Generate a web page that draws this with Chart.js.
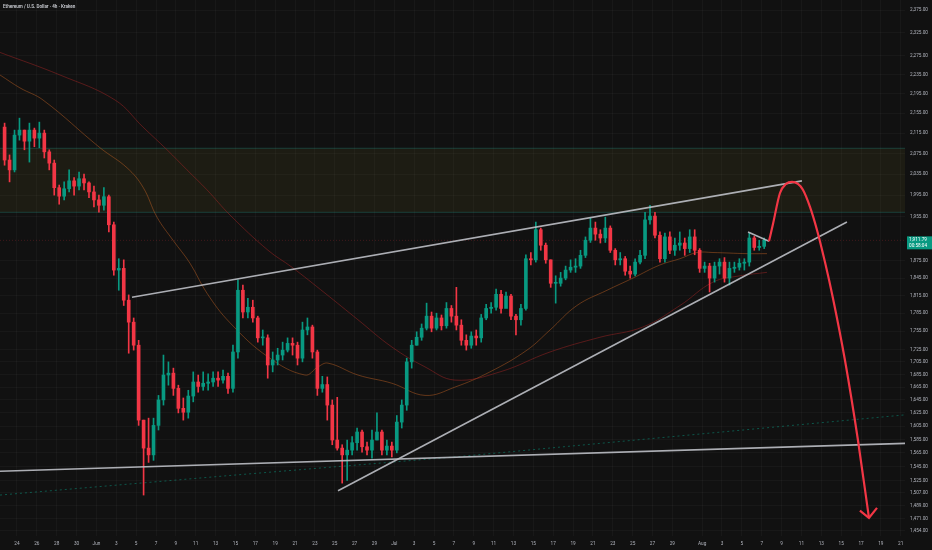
<!DOCTYPE html>
<html lang="en">
<head>
<meta charset="UTF-8">
<title>Ethereum / U.S. Dollar · 4h · Kraken</title>
<script src="https://cdn.jsdelivr.net/npm/chart.js"></script>
<style>
  body { margin: 0; background: #111111; }
  .wrap { width: 932px; height: 550px; }
</style>
</head>
<body>
<div class="wrap"><canvas id="grafico" width="932" height="550"></canvas></div>
<script>
// ---- data (x = days since May 1, 12h candles) ----
const titleText = 'Ethereum / U.S. Dollar · 4h · Kraken';
const firstCandle = 21.75;
const candleStep = 0.5;
const firstOpen = 2127;

const closes = [
  2062,2043,2111,2121,2099,2121,2105,2115,2078,2056,
  2009,1993,2007,2022,2012,2026,2018,2001,1986,1976,
  1992,1940,1859,1862,1807,1770,1732,1614,1572,1562,
  1606,1645,1684,1687,1663,1632,1626,1651,1673,1666,
  1671,1673,1679,1676,1682,1663,1721,1824,1787,1795,
  1777,1744,1744,1700,1708,1716,1724,1735,1732,1711,
  1757,1762,1721,1663,1669,1637,1584,1572,1562,1569,
  1580,1596,1574,1569,1584,1596,1569,1575,1569,1611,
  1637,1705,1732,1745,1760,1780,1760,1777,1764,1793,
  1780,1765,1740,1732,1747,1744,1777,1793,1795,1817,
  1793,1814,1780,1774,1793,1879,1877,1931,1903,1877,
  1836,1836,1845,1859,1864,1866,1885,1912,1934,1923,
  1916,1934,1894,1877,1879,1857,1852,1873,1885,1949,
  1956,1921,1879,1918,1894,1903,1907,1897,1918,1894,
  1862,1866,1845,1866,1873,1845,1862,1864,1871,1873,
  1916,1899,1901,1911.79
];
const highs = [
  2135,2072,2121,2145,2121,2135,2125,2137,2121,2082,
  2062,2014,2020,2043,2028,2039,2035,2020,2012,1995,
  2009,1995,1945,1879,1877,1816,1777,1740,1614,1617,
  1617,1652,1716,1705,1695,1668,1648,1660,1689,1684,
  1689,1686,1689,1689,1692,1687,1732,1842,1833,1810,
  1807,1780,1757,1749,1721,1727,1737,1744,1744,1737,
  1770,1777,1765,1724,1682,1681,1645,1649,1577,1584,
  1589,1602,1599,1581,1599,1625,1599,1584,1581,1621,
  1645,1711,1740,1754,1767,1802,1787,1785,1782,1803,
  1798,1829,1774,1749,1754,1757,1783,1800,1803,1826,
  1824,1821,1817,1783,1800,1886,1890,1945,1934,1907,
  1877,1849,1855,1866,1877,1879,1894,1918,1952,1945,
  1931,1954,1938,1897,1890,1883,1866,1879,1894,1963,
  1976,1963,1927,1925,1927,1916,1927,1916,1931,1931,
  1897,1873,1871,1873,1879,1881,1873,1873,1879,1879,
  1925,1919,1912,1916
];
const lows = [
  2052,2020,2039,2101,2082,2058,2088,2086,2066,2043,
  1995,1978,1986,2001,1995,2005,2005,1990,1973,1963,
  1967,1927,1850,1824,1798,1719,1724,1606,1504,1551,
  1554,1599,1637,1668,1652,1625,1614,1617,1642,1657,
  1660,1660,1666,1666,1671,1655,1657,1711,1777,1777,
  1770,1737,1732,1679,1689,1700,1708,1721,1716,1700,
  1705,1749,1711,1652,1657,1614,1577,1569,1521,1525,
  1562,1569,1566,1562,1557,1584,1562,1562,1559,1565,
  1602,1629,1695,1732,1740,1757,1754,1757,1757,1760,
  1770,1757,1732,1724,1727,1732,1737,1774,1785,1790,
  1785,1798,1774,1749,1765,1790,1868,1873,1894,1871,
  1829,1802,1831,1842,1855,1855,1862,1881,1908,1912,
  1907,1908,1890,1868,1868,1850,1845,1849,1870,1879,
  1941,1916,1873,1873,1888,1885,1894,1885,1890,1886,
  1855,1855,1821,1838,1852,1838,1833,1855,1859,1859,
  1866,1894,1894,1897
];

// moving averages
const maFastDays   = [21.29,23.30,25.62,31.36,34.08,35.69,37.10,38.71,40.42,42.13,44.45,48.28,52.00,53.31,54.32,57.34,60.76,64.09,67.11,70.63,74.36,76.68,79.39,82.42,85.03,87.75,89.77,91.48,93.09,96.51,98.53];
const maFastPrices = [2234,2207,2182,2086,2047,2010,1954,1912,1871,1819,1769,1713,1684,1697,1703,1684,1671,1652,1665,1689,1724,1757,1798,1824,1845,1868,1879,1890,1890,1888,1888];
const maSlowDays   = [21.29,27.33,32.87,35.69,38.11,40.12,42.13,44.45,48.28,50.69,54.02,57.34,60.76,64.09,67.11,71.64,76.68,81.71,86.04,89.77,93.09,95.81,98.53];
const maSlowPrices = [2282,2234,2182,2127,2082,2043,2005,1958,1894,1864,1819,1774,1729,1697,1676,1689,1721,1745,1762,1798,1838,1849,1855];
const dottedDays   = [21.29,44.45,67.11,112.43];
const dottedPrices = [1504,1532,1559,1622];

// drawings
const zoneTop = 2085, zoneBottom = 1963;
const upperDays = [34.58,102.05], upperPrices = [1812,2022];
const lowerDays = [55.33,106.58], lowerPrices = [1510,1945];
const supportDays = [21.29,112.43], supportPrices = [1538,1579];
const flagDays = [96.62,98.73], flagPrices = [1927,1910];
const arrowDays   = [98.73,99.13,99.84,100.44,101.05,101.65,102.15,102.86,103.56,104.37,105.18,106.38,107.69,108.80];
const arrowPrices = [1910,1941,1999,2016,2020,2016,2005,1973,1931,1873,1810,1708,1584,1472];
const headDays = [107.89,108.80,109.61], headPrices = [1482,1472,1486];

// axes
const xMin = 21.288, xMax = 112.43;
const yMin = 1447.1, yMax = 2397.5;
const xTickDays = [23,25,27,29,31,33,35,37,39,41,43,45,47,49,51,53,55,57,59,61,63,65,67,69,71,73,75,77,79,81,83,85,87,89,92,94,96,98,100,102,104,106,108,110,112];
const xTickLabels = ['24','26','28','30','Jun','3','5','7','9','11','13','15','17','19','21','23','25','27','29','Jul','3','5','7','9','11','13','15','17','19','21','23','25','27','29','Aug','3','5','7','9','11','13','15','17','19','21'];
const yTickValues = [2375,2325,2275,2235,2195,2155,2115,2075,2035,1995,1955,1875,1845,1815,1785,1755,1725,1705,1685,1665,1645,1625,1605,1585,1565,1545,1525,1507,1489,1471,1454];
const countdown = '00:58:04';

// ---- build ----
const upColor = '#089981', downColor = '#f23645';
const gridColor = 'rgba(255,255,255,0.03)';
const tickColor = '#b2b5be';
const fmt = v => v.toLocaleString('en-US', { minimumFractionDigits: 2, maximumFractionDigits: 2 });
const pts = (xs, ys) => xs.map((x, i) => ({ x: x, y: ys[i] }));

const xs = closes.map((c, i) => firstCandle + i * candleStep);
const opens = closes.map((c, i) => i === 0 ? firstOpen : closes[i - 1]);
const colors = closes.map((c, i) => c >= opens[i] ? upColor : downColor);
const lastClose = closes[closes.length - 1];

const linha = (data, color, width, order, extra) => Object.assign({
  type: 'line', data: data, borderColor: color, borderWidth: width,
  pointRadius: 0, fill: false, tension: 0, order: order
}, extra || {});

const extras = {
  id: 'extras',
  beforeDraw(chart) {
    const c = chart.ctx;
    c.save();
    c.fillStyle = '#111111';
    c.fillRect(0, 0, chart.width, chart.height);
    c.restore();
  },
  afterDraw(chart) {
    const c = chart.ctx, area = chart.chartArea;
    const py = chart.scales.y.getPixelForValue(lastClose);
    c.save();
    c.fillStyle = upColor;
    c.fillRect(area.right + 2, py - 4, chart.width - area.right - 2, 13);
    c.fillStyle = '#ffffff';
    c.font = '4.7px Roboto';
    c.textBaseline = 'middle';
    c.fillText(fmt(lastClose), area.right + 4, py - 0.5);
    c.fillText(countdown, area.right + 4, py + 5.5);
    c.fillStyle = '#c9cbd1';
    c.font = '600 4.6px Roboto';
    c.fillText(titleText, 3, 6.5);
    c.restore();
  }
};

new Chart(document.getElementById('grafico'), {
  type: 'bar',
  data: {
    datasets: [
      linha([{ x: xMin, y: zoneTop }, { x: xMax, y: zoneTop }], 'rgba(38,166,154,0.3)', 1, 10,
            { fill: '+1', backgroundColor: 'rgba(130,120,40,0.11)' }),
      linha([{ x: xMin, y: zoneBottom }, { x: xMax, y: zoneBottom }], 'rgba(38,166,154,0.3)', 1, 10),
      linha(pts(maSlowDays, maSlowPrices), 'rgba(160,35,35,0.5)', 1, 8, { tension: 0.4 }),
      linha(pts(maFastDays, maFastPrices), 'rgba(200,100,35,0.45)', 1, 8, { tension: 0.4 }),
      linha(pts(dottedDays, dottedPrices), 'rgba(8,153,129,0.5)', 1, 7, { borderDash: [2, 3] }),
      linha([{ x: xMin, y: lastClose }, { x: xMax, y: lastClose }], 'rgba(242,54,69,0.22)', 1, 7, { borderDash: [1, 2] }),
      {
        data: xs.map((x, i) => ({ x: x, y: [lows[i], highs[i]] })),
        backgroundColor: colors, barThickness: 1, grouped: false, order: 5
      },
      {
        data: xs.map((x, i) => ({ x: x, y: [opens[i], closes[i]] })),
        backgroundColor: colors, barThickness: 3, minBarLength: 1, grouped: false, order: 4
      },
      linha(pts(upperDays, upperPrices), 'rgba(190,192,198,0.9)', 1.6, 2),
      linha(pts(lowerDays, lowerPrices), 'rgba(190,192,198,0.9)', 1.6, 2),
      linha(pts(supportDays, supportPrices), 'rgba(190,192,198,0.9)', 1.6, 2),
      linha(pts(flagDays, flagPrices), 'rgba(190,192,198,0.9)', 1.6, 2),
      linha(pts(arrowDays, arrowPrices), '#f23645', 2.2, 1, { cubicInterpolationMode: 'monotone' }),
      linha(pts(headDays, headPrices), '#f23645', 2.2, 1)
    ]
  },
  options: {
    responsive: false,
    devicePixelRatio: 1,
    animation: false,
    events: [],
    layout: { padding: 0 },
    plugins: { legend: { display: false }, tooltip: { enabled: false } },
    scales: {
      x: {
        type: 'linear', min: xMin, max: xMax, offset: false,
        grid: { color: gridColor, drawTicks: false, offset: false },
        border: { display: false },
        ticks: {
          autoSkip: false, maxRotation: 0, padding: 5, color: tickColor,
          font: { size: 4.7, family: 'Roboto' },
          callback: (v, i) => xTickLabels[i]
        },
        afterBuildTicks: s => { s.ticks = xTickDays.map(v => ({ value: v })); },
        afterFit: s => { s.height = 14; s.paddingLeft = 0; s.paddingRight = 0; }
      },
      y: {
        type: 'logarithmic', position: 'right', min: yMin, max: yMax,
        grid: { color: gridColor, drawTicks: false },
        border: { display: false },
        ticks: {
          autoSkip: false, padding: 5, color: tickColor,
          font: { size: 4.7, family: 'Roboto' },
          callback: v => fmt(v)
        },
        afterBuildTicks: s => { s.ticks = yTickValues.map(v => ({ value: v })); },
        afterFit: s => { s.width = 27; s.paddingTop = 0; s.paddingBottom = 0; }
      }
    }
  },
  plugins: [extras]
});
</script>
</body>
</html>
